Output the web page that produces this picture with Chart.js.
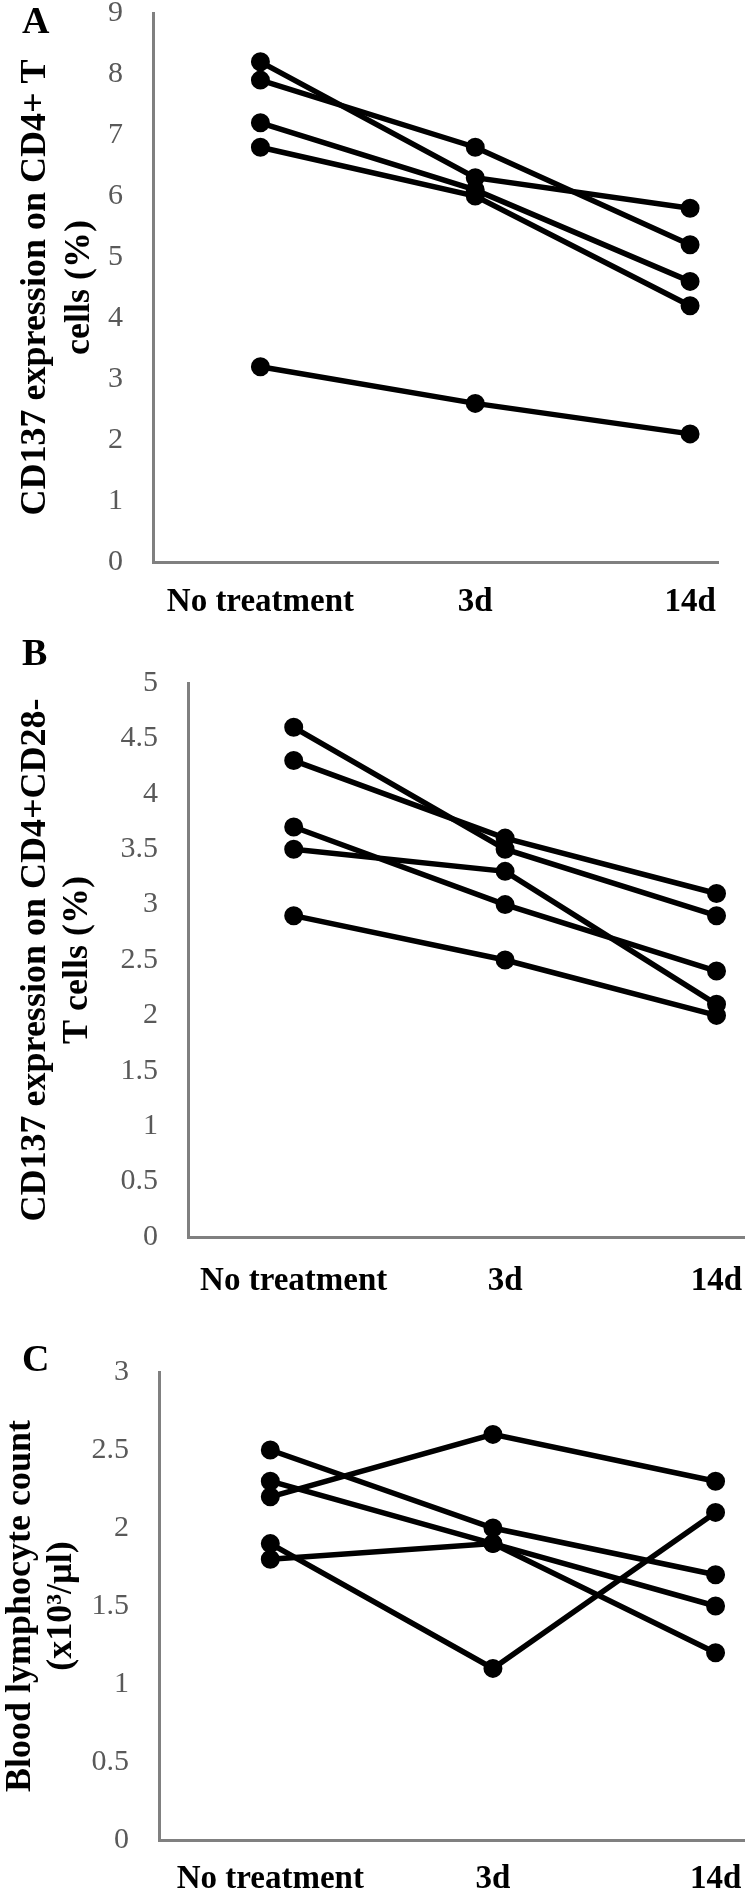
<!DOCTYPE html>
<html><head><meta charset="utf-8">
<script src="https://cdn.jsdelivr.net/npm/chart.js@4.4.1/dist/chart.umd.min.js"></script>
<style>
html,body{margin:0;padding:0;background:#fff;}
body{width:755px;height:1895px;position:relative;overflow:hidden;}
.wrap{position:absolute;left:0;width:755px;}
canvas{display:block;}
</style></head><body>
<div class="wrap" style="top:0;height:625px"><canvas id="cA" width="755" height="625"></canvas></div>
<div class="wrap" style="top:625px;height:670px"><canvas id="cB" width="755" height="670"></canvas></div>
<div class="wrap" style="top:1295px;height:600px"><canvas id="cC" width="755" height="600"></canvas></div>
<script>
// ---- data ----
const categories = ['No treatment', '3d', '14d'];

// Panel A: CD137 expression on CD4+ T cells (%)
const A1 = [8.2, 6.3, 5.8];
const A2 = [7.9, 6.8, 5.2];
const A3 = [7.2, 6.1, 4.6];
const A4 = [6.8, 6.0, 4.2];
const A5 = [3.2, 2.6, 2.1];
const yTitleA = ['CD137 expression on CD4+ T', 'cells (%)'];
const yMaxA = 9, yStepA = 1;

// Panel B: CD137 expression on CD4+CD28- T cells (%)
const B1 = [4.6, 3.5, 2.9];
const B2 = [4.3, 3.6, 3.1];
const B3 = [3.7, 3.0, 2.4];
const B4 = [3.5, 3.3, 2.1];
const B5 = [2.9, 2.5, 2.0];
const yTitleB = ['CD137 expression on CD4+CD28-', 'T cells (%)'];
const yMaxB = 5, yStepB = 0.5;

// Panel C: Blood lymphocyte count (x10^3/µl)
const C1 = [2.5, 2.0, 1.7];
const C2 = [2.3, 1.9, 1.5];
const C3 = [2.2, 2.6, 2.3];
const C4 = [1.8, 1.9, 1.2];
const C5 = [1.9, 1.1, 2.1];
const yTitleC = ['Blood lymphocyte count', '(x10\u00B3/\u00B5l)'];
const yMaxC = 3, yStepC = 0.5;

// ---- rendering ----
const SERIF = '"Liberation Serif", "Times New Roman", serif';

const panelLetter = {
  id: 'panelLetter',
  afterDraw(chart, args, opts) {
    const ctx = chart.ctx;
    ctx.save();
    ctx.font = 'bold 38px ' + SERIF;
    ctx.fillStyle = '#000';
    ctx.textBaseline = 'alphabetic';
    ctx.textAlign = 'left';
    ctx.fillText(opts.text, opts.x, opts.y);
    ctx.restore();
  }
};

function makeChart(id, cfg) {
  const datasets = cfg.series.map(arr => ({
    data: arr.map((v, i) => ({x: i, y: v})),
    borderColor: '#000',
    borderWidth: 5.5,
    pointRadius: 8.5,
    pointBorderWidth: 2,
    pointBackgroundColor: '#000',
    pointBorderColor: '#000',
    tension: 0,
    fill: false,
    clip: false
  }));
  return new Chart(document.getElementById(id), {
    type: 'line',
    data: {datasets},
    plugins: [panelLetter],
    options: {
      responsive: false,
      animation: false,
      layout: {padding: {top: cfg.top, right: cfg.right, left: 0, bottom: 0}},
      plugins: {
        legend: {display: false},
        tooltip: {enabled: false},
        panelLetter: {text: cfg.letter, x: 22, y: cfg.letterY}
      },
      scales: {
        x: {
          type: 'linear',
          min: -0.5,
          max: 2.13,
          afterBuildTicks: s => { s.ticks = categories.map((c, i) => ({value: i})); },
          ticks: {
            callback: v => categories[v],
            font: {family: SERIF, size: 33, weight: 'bold', lineHeight: 1.2},
            color: '#000',
            padding: cfg.xPad,
            maxRotation: 0,
            autoSkip: false
          },
          grid: {display: false, drawTicks: false},
          border: {display: true, color: '#808080', width: 3},
          afterFit: s => { s.height = cfg.xHeight; s.paddingLeft = 0; s.paddingRight = 0; }
        },
        y: {
          type: 'linear',
          min: 0,
          max: cfg.yMax,
          ticks: {
            stepSize: cfg.yStep,
            callback: v => String(Math.round(v * 10) / 10),
            font: {family: SERIF, size: 30},
            color: '#595959',
            padding: 30
          },
          grid: {display: false, drawTicks: false},
          border: {display: true, color: '#808080', width: 3},
          title: {
            display: true,
            text: cfg.title,
            font: {family: SERIF, size: 36, weight: 'bold', lineHeight: cfg.titleLH},
            color: '#000',
            padding: {top: cfg.titlePad, bottom: 0}
          },
          afterFit: s => { s.width = cfg.yWidth; s.paddingTop = 0; s.paddingBottom = 0; }
        }
      }
    }
  });
}

makeChart('cA', {
  series: [A1, A2, A3, A4, A5], title: yTitleA, yMax: yMaxA, yStep: yStepA,
  top: 13, right: 37, xHeight: 63, yWidth: 153, xPad: 21,
  titleLH: 1.22, titlePad: 14, letter: 'A', letterY: 33
});
makeChart('cB', {
  series: [B1, B2, B3, B4, B5], title: yTitleB, yMax: yMaxB, yStep: yStepB,
  top: 58, right: 11, xHeight: 58, yWidth: 188, xPad: 25,
  titleLH: 1.17, titlePad: 15, letter: 'B', letterY: 40
});
makeChart('cC', {
  series: [C1, C2, C3, C4, C5], title: yTitleC, yMax: yMaxC, yStep: yStepC,
  top: 77, right: 0, xHeight: 55, yWidth: 159, xPad: 20,
  titleLH: 1.15, titlePad: 0, letter: 'C', letterY: 76
});
</script>
</body></html>
